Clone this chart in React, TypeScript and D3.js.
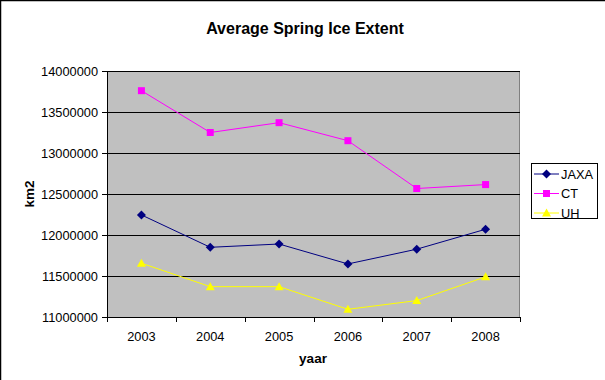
import React from "react";
import * as d3 from "d3";

const years = ["2003", "2004", "2005", "2006", "2007", "2008"];
const jaxa = [12245000, 11850000, 11890000, 11647000, 11827000, 12070000];
const ct = [13760000, 13250000, 13370000, 13150000, 12567000, 12615000];
const uh = [11656000, 11370000, 11370000, 11094000, 11200000, 11490000];
const yTicks = [11000000, 11500000, 12000000, 12500000, 13000000, 13500000, 14000000];

const seriesNames = ["JAXA", "CT", "UH"];
const seriesColors = ["#000080", "#FF00FF", "#FFFF00"];
const seriesShapes = ["diamond", "square", "triangle"];

const W = 605;
const H = 380;
const left = 107;
const right = 520;
const top = 71;
const bottom = 317;
const font = "Arial, 'Liberation Sans', sans-serif";

function Marker({ shape, x, y, color }: { shape: string; x: number; y: number; color: string }) {
  if (shape === "square") {
    return <rect x={x - 3.5} y={y - 3.5} width={7} height={7} fill={color} />;
  }
  if (shape === "diamond") {
    return <path d={`M${x},${y - 4.5}L${x + 4.5},${y}L${x},${y + 4.5}L${x - 4.5},${y}Z`} fill={color} />;
  }
  return <path d={`M${x},${y - 4.5}L${x + 4.5},${y + 3.5}L${x - 4.5},${y + 3.5}Z`} fill={color} />;
}

export default function App() {
  const x = d3.scaleBand<string>().domain(years).range([left, right]);
  const y = d3.scaleLinear().domain([11000000, 14000000]).range([bottom, top]);
  const data = [jaxa, ct, uh];
  const line = d3
    .line<number>()
    .x((_, i) => (x(years[i]) as number) + x.bandwidth() / 2)
    .y((d) => y(d));
  const boundaries = years.map((yr) => x(yr) as number).concat([right]);

  return (
    <svg width={W} height={H} style={{ position: "absolute", left: 0, top: 0 }}>
      <rect x={0} y={0} width={W} height={H} fill="#ffffff" />
      <line x1={0.5} y1={0} x2={0.5} y2={H} stroke="#000" strokeWidth={1.5} />
      <line x1={0} y1={0.5} x2={W} y2={0.5} stroke="#000" strokeWidth={1.5} />

      <text x={305} y={34} textAnchor="middle" fontFamily={font} fontWeight="bold" fontSize={16} fill="#000">
        Average Spring Ice Extent
      </text>

      <rect x={left} y={top} width={right - left} height={bottom - top} fill="#C0C0C0" />
      <line x1={left} y1={top + 0.5} x2={right} y2={top + 0.5} stroke="#808080" />
      <line x1={right - 0.5} y1={top} x2={right - 0.5} y2={bottom} stroke="#808080" />

      {yTicks.map((t) => (
        <g key={t}>
          <line x1={left - 5} x2={right} y1={Math.round(y(t)) + 0.5} y2={Math.round(y(t)) + 0.5} stroke="#000" />
          <text x={98} y={y(t) + 4.5} textAnchor="end" fontFamily={font} fontSize={12.8} fill="#000">
            {t}
          </text>
        </g>
      ))}
      <line x1={left + 0.5} x2={left + 0.5} y1={top} y2={bottom} stroke="#000" />
      {boundaries.map((b, i) => (
        <line key={i} x1={Math.round(b) + 0.5} x2={Math.round(b) + 0.5} y1={bottom} y2={bottom + 5} stroke="#000" />
      ))}
      {years.map((yr) => (
        <text key={yr} x={(x(yr) as number) + x.bandwidth() / 2} y={341} textAnchor="middle" fontFamily={font} fontSize={12.8} fill="#000">
          {yr}
        </text>
      ))}

      <text x={313} y={363} textAnchor="middle" fontFamily={font} fontWeight="bold" fontSize={13.5} fill="#000">
        yaar
      </text>
      <text transform={`translate(34,194) rotate(-90)`} textAnchor="middle" fontFamily={font} fontWeight="bold" fontSize={13.5} fill="#000">
        km2
      </text>

      {data.map((s, si) => (
        <g key={si}>
          <path d={line(s) as string} fill="none" stroke={seriesColors[si]} strokeWidth={1} />
          {s.map((v, i) => (
            <Marker key={i} shape={seriesShapes[si]} x={(x(years[i]) as number) + x.bandwidth() / 2} y={y(v)} color={seriesColors[si]} />
          ))}
        </g>
      ))}

      <rect x={531.5} y={163.5} width={66} height={55} fill="#fff" stroke="#000" />
      {seriesNames.map((n, i) => {
        const ly = 174 + i * 19.5;
        return (
          <g key={n}>
            <line x1={534} x2={559} y1={ly} y2={ly} stroke={seriesColors[i]} />
            <Marker shape={seriesShapes[i]} x={546.5} y={ly} color={seriesColors[i]} />
            <text x={561} y={ly + 4.5} fontFamily={font} fontSize={12.8} fill="#000">
              {n}
            </text>
          </g>
        );
      })}
    </svg>
  );
}
